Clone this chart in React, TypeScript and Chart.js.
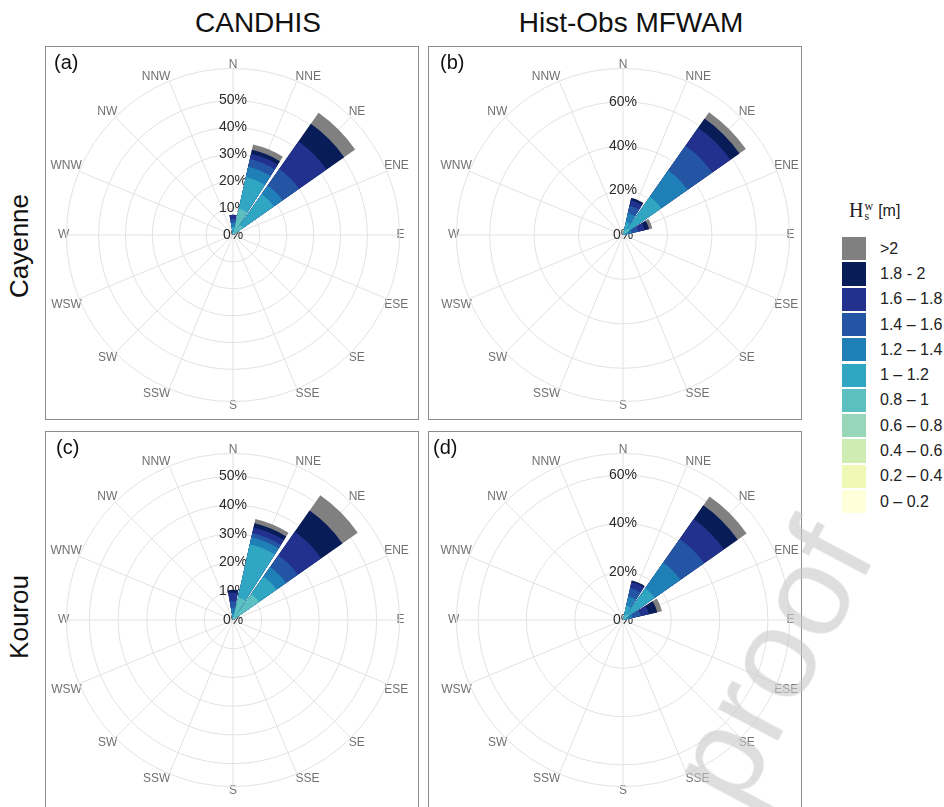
import React, { useEffect, useRef } from 'react';
import { Chart, registerables } from 'chart.js';

Chart.register(...registerables);

// ---------- categories ----------
const DIRECTIONS = ['N', 'NNE', 'NE', 'ENE', 'E', 'ESE', 'SE', 'SSE', 'S', 'SSW', 'SW', 'WSW', 'W', 'WNW', 'NW', 'NNW'];
const HS_CLASSES = ['0 – 0.2', '0.2 – 0.4', '0.4 – 0.6', '0.6 – 0.8', '0.8 – 1', '1 – 1.2', '1.2 – 1.4', '1.4 – 1.6', '1.6 – 1.8', '1.8 - 2', '>2'];
const HS_COLORS = ['#ffffd9', '#eff9b5', '#cfecb3', '#97d6b9', '#5dc0c0', '#31a6c2', '#1f80b8', '#2355a4', '#22318d', '#081d58', '#808080'];

// ---------- series: % of occurrences per Hs class (order of HS_CLASSES) ----------
// (a) CANDHIS – Cayenne
const A_N = [0, 0, 0, 0, 1, 2, 1.5, 1.5, 1.5, 0, 0];
const A_NNE = [0, 0, 0, 1, 9, 12, 4, 3, 2, 1.5, 2];
const A_NE = [0, 0, 0, 0.5, 4, 14, 4, 7.5, 12.5, 8, 5];
// (b) Hist-Obs MFWAM – Cayenne
const B_NNE = [0, 0, 0, 0, 2, 4, 4, 3.5, 2.5, 1, 0];
const B_NE = [0, 0, 0, 0.5, 3, 17.5, 14.5, 13.5, 10, 5, 3.5];
const B_ENE = [0, 0, 0, 0, 0, 2, 2, 3, 3, 2, 1.5];
// (c) CANDHIS – Kourou
const C_N = [0, 0, 0, 0, 1, 1, 2, 2.5, 3, 1, 0];
const C_NNE = [0, 0, 0, 1, 7, 19, 2.5, 1.5, 2, 1.5, 1.5];
const C_NE = [0, 0, 0, 1, 10, 7.5, 4, 5, 10, 9, 6.5];
// (d) Hist-Obs MFWAM – Kourou
const D_NNE = [0, 0, 0, 0, 2, 4, 4, 3.5, 2.5, 0.7, 0];
const D_NE = [0, 0, 0, 0.5, 2.5, 13, 13, 12, 10, 7, 4.5];
const D_ENE = [0, 0, 0, 0, 0, 2, 2, 3.5, 3.5, 3.5, 2];

// ---------- radial tick labels ----------
const A_TICKS = [0, 10, 20, 30, 40, 50];
const A_MAX = 62;
const B_TICKS = [0, 20, 40, 60];
const B_MAX = 75;
const C_TICKS = [0, 10, 20, 30, 40, 50];
const C_MAX = 58;
const D_TICKS = [0, 20, 40, 60];
const D_MAX = 69;

const SECTOR_DEG = 20;
const GAP_DEG = 2.5;
const FONT = "'Liberation Sans', Arial, sans-serif";
const GRID = '#e2e2e2';

// Sequence of arcs going clockwise from north:
// [N right half, gap, NNE, gap, ..., NNW, gap, N left half]
function sequence<T>(perDir: T[], gap: T, halfFirst?: (v: T) => T): T[] {
  const out: T[] = [halfFirst ? halfFirst(perDir[0]) : perDir[0]];
  for (let i = 1; i < perDir.length; i++) out.push(gap, perDir[i]);
  out.push(gap, halfFirst ? halfFirst(perDir[0]) : perDir[0]);
  return out;
}

type RoseProps = {
  byDir: Record<string, number[]>;
  ticks: number[];
  max: number;
  cx: number;
  cy: number;
};

const CANVAS = 372;
const PAD = 3;
const OFF_X = 189;
const OFF_Y = 186;

function Rose({ byDir, ticks, max, cx, cy }: RoseProps) {
  const ref = useRef<HTMLCanvasElement>(null);
  useEffect(() => {
    if (!ref.current) return;
    const angles = sequence(DIRECTIONS.map(() => SECTOR_DEG), GAP_DEG, (v) => v / 2);
    const datasets = HS_CLASSES.map((cls, k) => {
      const cumulative = DIRECTIONS.map((d) => {
        const arr = byDir[d];
        if (!arr) return 0;
        let s = 0;
        for (let j = 0; j <= k; j++) s += arr[j];
        return s;
      });
      return {
        label: cls,
        data: sequence(cumulative, 0),
        angle: angles,
        backgroundColor: HS_COLORS[k],
        borderWidth: 0,
      } as any;
    });
    const chart = new Chart(ref.current, {
      type: 'polarArea',
      data: { labels: DIRECTIONS, datasets },
      options: {
        responsive: false,
        animation: false,
        events: [],
        layout: { padding: PAD },
        plugins: { legend: { display: false }, tooltip: { enabled: false } },
        elements: { arc: { borderWidth: 0 } },
        scales: {
          r: {
            min: -0.02,
            max,
            startAngle: 0,
            afterBuildTicks: (scale: any) => {
              scale.ticks = [...ticks, max].map((v) => ({ value: v }));
            },
            ticks: {
              display: true,
              showLabelBackdrop: false,
              backdropPadding: 0,
              color: '#2b2b2b',
              font: { family: FONT, size: 14 },
              callback: (v: any) => (ticks.includes(Number(v)) ? `${v}%` : ''),
            },
            grid: { display: true, circular: true, color: GRID, lineWidth: 1 },
            angleLines: { display: true, color: GRID, lineWidth: 1 },
            pointLabels: {
              display: true,
              centerPointLabels: false,
              padding: -10,
              color: '#707070',
              font: { family: FONT, size: 12 },
            },
          } as any,
        },
      } as any,
    });
    return () => chart.destroy();
  }, [byDir, ticks, max]);
  return (
    <canvas
      ref={ref}
      width={CANVAS}
      height={CANVAS}
      style={{ position: 'absolute', left: cx - OFF_X, top: cy - OFF_Y, width: CANVAS, height: CANVAS }}
    />
  );
}

const PANELS = [
  { letter: '(a)', byDir: { N: A_N, NNE: A_NNE, NE: A_NE }, ticks: A_TICKS, max: A_MAX, cx: 233, cy: 235, box: [45, 46, 374, 374], lp: [54, 52] },
  { letter: '(b)', byDir: { NNE: B_NNE, NE: B_NE, ENE: B_ENE }, ticks: B_TICKS, max: B_MAX, cx: 623, cy: 235, box: [428, 46, 374, 374], lp: [440, 52] },
  { letter: '(c)', byDir: { N: C_N, NNE: C_NNE, NE: C_NE }, ticks: C_TICKS, max: C_MAX, cx: 233, cy: 620, box: [45, 431, 374, 390], lp: [56, 437] },
  { letter: '(d)', byDir: { NNE: D_NNE, NE: D_NE, ENE: D_ENE }, ticks: D_TICKS, max: D_MAX, cx: 623, cy: 620, box: [428, 431, 374, 390], lp: [433, 437] },
];

const centered = (x: number, y: number, extra: any = {}) => ({
  position: 'absolute' as const,
  left: x,
  top: y,
  transform: 'translate(-50%, -50%)' + (extra.rotate ? ` rotate(${extra.rotate}deg)` : ''),
  whiteSpace: 'nowrap' as const,
  lineHeight: 1,
});

export default function App() {
  const legendOrder = HS_CLASSES.map((c, i) => i).reverse();
  return (
    <div
      style={{
        position: 'absolute',
        left: 0,
        top: 0,
        width: 944,
        height: 807,
        overflow: 'hidden',
        background: '#fff',
        fontFamily: FONT,
        color: '#111',
      }}
    >
      <div style={{ ...centered(258, 23), fontSize: 28 }}>CANDHIS</div>
      <div style={{ ...centered(631, 23), fontSize: 28 }}>Hist-Obs MFWAM</div>
      <div style={{ ...centered(19, 246, { rotate: -90 }), fontSize: 26 }}>Cayenne</div>
      <div style={{ ...centered(19, 617, { rotate: -90 }), fontSize: 26 }}>Kourou</div>

      {PANELS.map((p) => (
        <div
          key={p.letter + 'box'}
          style={{
            position: 'absolute',
            left: p.box[0],
            top: p.box[1],
            width: p.box[2],
            height: p.box[3],
            border: '1px solid #8c8c8c',
            boxSizing: 'border-box',
          }}
        />
      ))}
      {PANELS.map((p) => (
        <Rose key={p.letter} byDir={p.byDir} ticks={p.ticks} max={p.max} cx={p.cx} cy={p.cy} />
      ))}
      {PANELS.map((p) => (
        <div
          key={p.letter + 'lbl'}
          style={{ position: 'absolute', left: p.lp[0], top: p.lp[1], fontSize: 20, lineHeight: 1, color: '#111' }}
        >
          {p.letter}
        </div>
      ))}

      {/* legend */}
      <div style={{ position: 'absolute', left: 849, top: 199, display: 'flex', alignItems: 'center', color: '#222' }}>
        <span style={{ fontFamily: "'Liberation Serif', serif", fontSize: 20 }}>H</span>
        <span
          style={{
            display: 'inline-flex',
            flexDirection: 'column',
            fontFamily: "'Liberation Serif', serif",
            fontSize: 12,
            lineHeight: '10px',
            marginLeft: 1,
          }}
        >
          <span>w</span>
          <span>s</span>
        </span>
        <span style={{ fontFamily: FONT, fontSize: 16, marginLeft: 5 }}>[m]</span>
      </div>
      {legendOrder.map((k, row) => (
        <React.Fragment key={HS_CLASSES[k]}>
          <div
            style={{
              position: 'absolute',
              left: 842,
              top: 237 + row * 25.3,
              width: 24,
              height: 23.3,
              background: HS_COLORS[k],
            }}
          />
          <div
            style={{
              position: 'absolute',
              left: 880,
              top: 237 + row * 25.3 + 11.6,
              transform: 'translateY(-50%)',
              fontSize: 16,
              lineHeight: 1,
              color: '#222',
              whiteSpace: 'nowrap',
            }}
          >
            {HS_CLASSES[k]}
          </div>
        </React.Fragment>
      ))}

      {/* journal watermark */}
      <div
        style={{
          ...centered(770, 662, { rotate: -62 }),
          fontSize: 128,
          color: 'rgba(200,200,200,0.6)',
          pointerEvents: 'none',
        }}
      >
        proof
      </div>
    </div>
  );
}
